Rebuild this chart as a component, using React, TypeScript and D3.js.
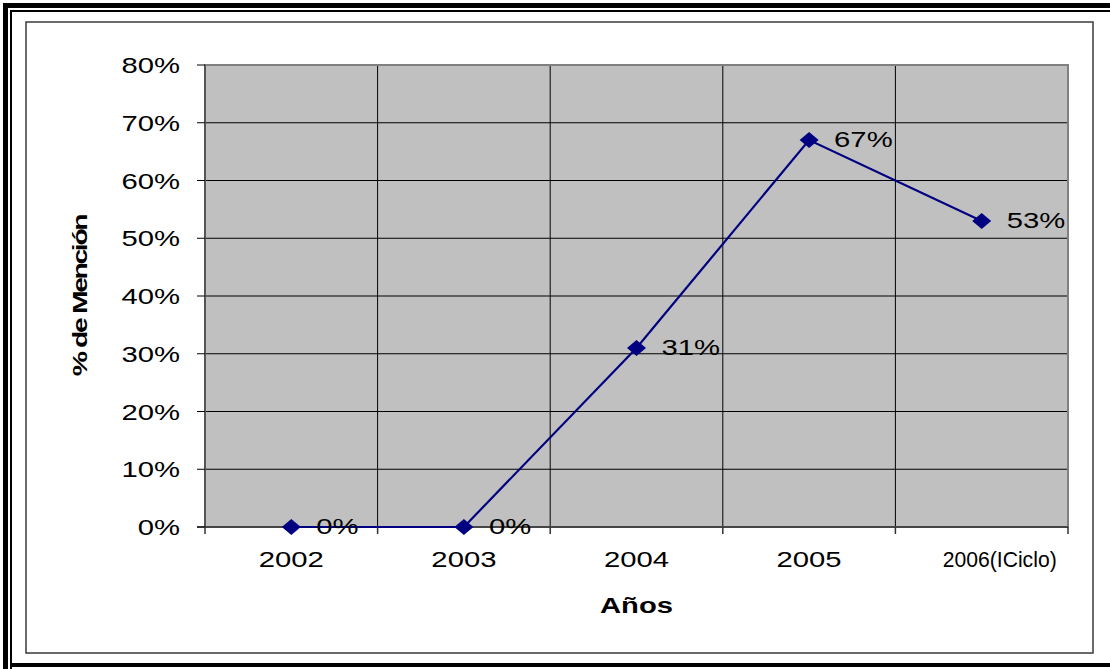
import React from "react";
import * as d3 from "d3";

// Share of mentions per year
const categories = ["2002", "2003", "2004", "2005", "2006(ICiclo)"];
const mentionPct = [0, 0, 31, 67, 53];
const yTicks = [0, 10, 20, 30, 40, 50, 60, 70, 80];
const xTitle = "Años";
const yTitle = "% de Mención";

const W = 1110;
const H = 669;
const plot = { left: 205, right: 1068, top: 65, bottom: 527 };
const FONT = "'Liberation Sans', Arial, sans-serif";
const SX = 1.33; // horizontal glyph stretch used throughout

export default function App() {
  const x = d3
    .scaleBand<string>()
    .domain(categories)
    .range([plot.left, plot.right])
    .padding(0);
  const y = d3.scaleLinear().domain([0, 80]).range([plot.bottom, plot.top]);
  const cx = (c: string) => (x(c) as number) + x.bandwidth() / 2;

  const pts = categories.map((c, i) => [cx(c), y(mentionPct[i])] as [number, number]);
  const line = d3.line<[number, number]>()(pts) as string;

  const boundaries = [...categories.map((c) => x(c) as number), plot.right];

  const diamond = (px: number, py: number) =>
    `M${px - 9.5},${py} L${px},${py - 8} L${px + 9.5},${py} L${px},${py + 8} Z`;

  return (
    <div style={{ position: "absolute", left: 0, top: 0 }}>
      <svg width={W} height={H} style={{ display: "block", background: "#fff" }}>
        {/* outer frame */}
        <rect x={0} y={0} width={W} height={H} fill="#fff" />
        <rect x={3} y={3} width={5} height={H - 3} fill="#000" />
        <rect x={3} y={3} width={W - 3} height={5} fill="#000" />
        <rect x={10} y={10} width={2} height={H - 10} fill="#000" />
        <rect x={10} y={10} width={W - 10} height={2} fill="#000" />
        <rect x={10} y={663} width={W - 10} height={4} fill="#000" />
        {/* chart box */}
        <rect x={26} y={22} width={1067} height={631} fill="#fff" stroke="#3a3a3a" strokeWidth={1.5} />

        {/* plot area */}
        <rect
          x={plot.left}
          y={plot.top}
          width={plot.right - plot.left}
          height={plot.bottom - plot.top}
          fill="#C0C0C0"
        />
        {/* horizontal gridlines */}
        {yTicks.map((t) => (
          <line key={"h" + t} x1={plot.left} x2={plot.right} y1={y(t)} y2={y(t)} stroke="#000" strokeWidth={1} />
        ))}
        {/* vertical gridlines */}
        {boundaries.slice(1, -1).map((b, i) => (
          <line key={"v" + i} x1={b} x2={b} y1={plot.top} y2={plot.bottom} stroke="#000" strokeWidth={1} />
        ))}
        <rect
          x={plot.left}
          y={plot.top}
          width={plot.right - plot.left}
          height={plot.bottom - plot.top}
          fill="none"
          stroke="#808080"
          strokeWidth={2}
        />
        {/* axes */}
        <line x1={plot.left} x2={plot.left} y1={plot.top} y2={plot.bottom} stroke="#555" strokeWidth={2} />
        <line x1={plot.left - 8} x2={plot.right} y1={plot.bottom} y2={plot.bottom} stroke="#333" strokeWidth={1.5} />
        {yTicks.map((t) => (
          <line key={"yt" + t} x1={plot.left - 8} x2={plot.left} y1={y(t)} y2={y(t)} stroke="#000" strokeWidth={1} />
        ))}
        {boundaries.map((b, i) => (
          <line key={"xt" + i} x1={b} x2={b} y1={plot.bottom} y2={plot.bottom + 7} stroke="#333" strokeWidth={1.5} />
        ))}

        {/* y tick labels */}
        {yTicks.map((t) => (
          <text
            key={"yl" + t}
            transform={`translate(${plot.left - 25},${y(t) + 8}) scale(${SX},1)`}
            textAnchor="end"
            fontFamily={FONT}
            fontSize={22}
            fill="#000"
          >
            {t}%
          </text>
        ))}

        {/* x tick labels */}
        {categories.map((c) =>
          c.length > 6 ? (
            <text
              key={"xl" + c}
              x={cx(c) + 18}
              y={plot.bottom + 40}
              textAnchor="middle"
              fontFamily={FONT}
              fontSize={22}
              textLength={114}
              lengthAdjust="spacingAndGlyphs"
              fill="#000"
            >
              {c}
            </text>
          ) : (
            <text
              key={"xl" + c}
              transform={`translate(${cx(c)},${plot.bottom + 40}) scale(${SX},1)`}
              textAnchor="middle"
              fontFamily={FONT}
              fontSize={22}
              fill="#000"
            >
              {c}
            </text>
          )
        )}

        {/* axis titles */}
        <text
          transform={`translate(${(plot.left + plot.right) / 2},${plot.bottom + 86}) scale(${SX},1)`}
          textAnchor="middle"
          fontFamily={FONT}
          fontSize={22}
          fontWeight="bold"
          fill="#000"
        >
          {xTitle}
        </text>
        <text
          transform={`translate(87,${(plot.top + plot.bottom) / 2}) rotate(-90) scale(1.45,1)`}
          textAnchor="middle"
          fontFamily={FONT}
          fontSize={19.5}
          fontWeight="bold"
          letterSpacing={-1.6}
          fill="#000"
        >
          {yTitle}
        </text>

        {/* series */}
        <path d={line} fill="none" stroke="#000080" strokeWidth={2.2} />
        {pts.map(([px, py], i) => (
          <path key={"m" + i} d={diamond(px, py)} fill="#000080" />
        ))}
        {pts.map(([px, py], i) => (
          <text
            key={"dl" + i}
            transform={`translate(${px + 25},${py + 7}) scale(${SX},1)`}
            textAnchor="start"
            fontFamily={FONT}
            fontSize={22}
            fill="#000"
          >
            {mentionPct[i]}%
          </text>
        ))}
      </svg>
    </div>
  );
}
